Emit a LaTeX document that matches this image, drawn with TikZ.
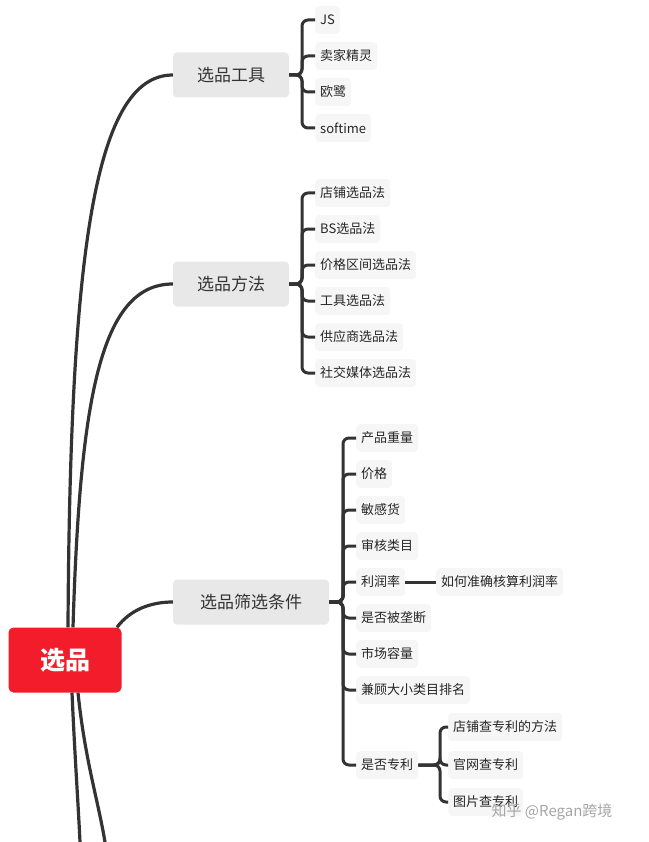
\documentclass[tikz,border=0pt]{standalone}
\usepackage{fontspec}
\setmainfont{Noto Sans CJK SC}
\begin{document}
\begin{tikzpicture}[x=1pt,y=1pt,
 mainb/.style={fill=mgray,rounded corners=4pt,minimum width=116pt,minimum height=45pt,font=\fontsize{17}{20}\selectfont,text=black!80,inner sep=0pt},
 leaf/.style={fill=lgray,rounded corners=4pt,minimum height=28pt,inner xsep=5pt,anchor=west,font=\fontsize{13}{16}\selectfont,text=black!85},
 conn/.style={draw=lcol,line width=3pt,rounded corners=6pt},
 curv/.style={draw=lcol,line width=3.2pt}]
\definecolor{mgray}{HTML}{E8E8E8}
\definecolor{lgray}{HTML}{F6F6F6}
\definecolor{lcol}{HTML}{333333}
\definecolor{rootred}{HTML}{F31C2B}
\useasboundingbox (0,0) rectangle (648,-842);
% root
\node[fill=rootred,rounded corners=5pt,minimum width=113pt,minimum height=65pt,text=white,font=\fontsize{25}{28}\selectfont\bfseries] (root) at (65,-660) {选品};
\node[mainb] (b1) at (231,-75) {选品工具};
\node[mainb] (b2) at (231,-284) {选品方法};
\node[mainb,minimum width=156pt] (b3) at (251,-602) {选品筛选条件};
% curves
\draw[curv] ([xshift=3pt]root.north) .. controls (70,-250) and (95,-75) .. (b1.west);
\draw[curv] ([xshift=8pt]root.north) .. controls (80,-400) and (100,-284) .. (b2.west);
\draw[curv] ([xshift=52pt]root.north) .. controls (130,-610) and (150,-602) .. (b3.west);
\coordinate (d1) at (80,-842);
\coordinate (d2) at (105,-842);
\draw[curv] ([xshift=7pt]root.south) .. controls (75,-760) and (78,-800) .. (d1);
\draw[curv] ([xshift=13pt]root.south) .. controls (85,-760) and (98,-800) .. (d2);
% tools leaves
\foreach \n/\t/\y in {a1/JS/20,a2/卖家精灵/56,a3/欧鹭/92,a4/softime/128}{
 \node[leaf] (\n) at (315,-\y) {\t};
 \draw[conn] (b1.east) -- (302,-75) |- (\n.west);}
\foreach \n/\t/\y in {m1/店铺选品法/193,m2/BS选品法/229,m3/价格区间选品法/265,m4/工具选品法/301,m5/供应商选品法/337,m6/社交媒体选品法/373}{
 \node[leaf] (\n) at (315,-\y) {\t};
 \draw[conn] (b2.east) -- (302,-284) |- (\n.west);}
\foreach \n/\t/\y in {s1/产品重量/438,s2/价格/474,s3/敏感货/510,s4/审核类目/546,s5/利润率/582,s6/是否被垄断/618,s7/市场容量/654,s8/兼顾大小类目排名/690,s9/是否专利/765}{
 \node[leaf] (\n) at (356,-\y) {\t};
 \draw[conn] (b3.east) -- (343,-602) |- (\n.west);}
\node[leaf] (r1) at (436,-582) {如何准确核算利润率};
\draw[conn] (s5.east) -- (r1.west);
\foreach \n/\t/\y in {p1/店铺查专利的方法/727,p2/官网查专利/765,p3/图片查专利/802}{
 \node[leaf] (\n) at (448,-\y) {\t};
 \draw[conn] (s9.east) -- (440,-765) |- (\n.west);}
\node[text=black!35,font=\fontsize{15}{18}\selectfont] (wm) at (552,-812) {知乎 @Regan跨境};
\end{tikzpicture}
\end{document}
